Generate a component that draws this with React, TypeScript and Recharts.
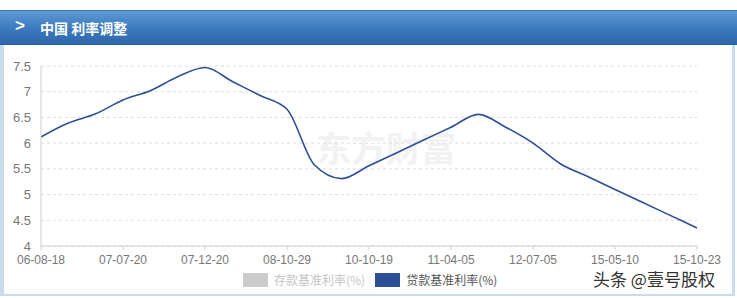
import React from 'react';
import { LineChart, Line, XAxis, YAxis, CartesianGrid, Legend } from 'recharts';

// rate adjustment dates (yy-mm-dd)
const dates = [
    '06-08-18', '07-03-17', '07-05-18', '07-07-20', '07-08-21', '07-09-14', '07-12-20',
    '08-09-15', '08-10-08', '08-10-29', '08-11-26', '08-12-22', '10-10-19', '10-12-25',
    '11-02-08', '11-04-05', '11-07-06', '12-06-07', '12-07-05', '14-11-21', '15-02-28',
    '15-05-10', '15-06-27', '15-08-25', '15-10-23'
];

// 存款基准利率 (hidden in the reference)
const depositRates = [
    2.52, 2.79, 3.06, 3.33, 3.6, 3.87, 4.14, 4.14, 3.87, 3.6, 2.52, 2.25, 2.5, 2.75,
    3.0, 3.25, 3.5, 3.25, 3.0, 2.75, 2.5, 2.25, 2.0, 1.75, 1.5
];

// 贷款基准利率
const loanRates = [
    6.12, 6.39, 6.57, 6.84, 7.02, 7.29, 7.47, 7.2, 6.93, 6.66, 5.58, 5.31, 5.56, 5.81,
    6.06, 6.31, 6.56, 6.31, 6.0, 5.6, 5.35, 5.1, 4.85, 4.6, 4.35
];

const yTicks = [4, 4.5, 5, 5.5, 6, 6.5, 7, 7.5];

const data = dates.map((d, i) => ({ date: d, deposit: depositRates[i], loan: loanRates[i] }));

const FONT = '"Liberation Sans", "Noto Sans CJK SC", sans-serif';

const renderLegend = (props: any) => {
    const { payload } = props;
    return (
        <div style={{ display: 'flex', alignItems: 'center', fontFamily: '"Noto Sans CJK SC", sans-serif', fontSize: 12 }}>
            {payload.map((entry: any) => (
                <div key={entry.value} style={{ display: 'flex', alignItems: 'center', marginRight: 10 }}>
                    <span style={{
                        display: 'inline-block', width: 25, height: 14, marginRight: 6,
                        background: entry.inactive ? '#cccccc' : entry.color
                    }} />
                    <span style={{ color: entry.inactive ? '#c4c4c4' : '#555' }}>{entry.value}</span>
                </div>
            ))}
        </div>
    );
};

export default function App() {
    return (
        <div style={{ position: 'relative', width: 737, height: 298, background: '#fff', overflow: 'hidden' }}>
            <style>{'body{margin:0}'}</style>

            {/* panel frame */}
            <div style={{
                position: 'absolute', left: 0, top: 44, width: 728, height: 250,
                borderLeft: '4px solid #c9dbec', borderRight: '3px solid #c9dbec', borderBottom: '2px solid #c9dbec'
            }} />

            {/* header bar */}
            <div style={{
                position: 'absolute', left: 0, top: 10, width: 737, height: 35, boxSizing: 'border-box',
                background: 'linear-gradient(to bottom, #5f9ad6, #3a78bd 55%, #2f68ab)',
                borderTop: '1px solid #3f74b0', borderBottom: '1px solid #2a5c98'
            }}>
                <span style={{
                    position: 'absolute', left: 15, top: 5, color: '#fff', fontSize: 17, fontWeight: 'bold',
                    fontFamily: FONT
                }}>{'>'}</span>
                <span style={{
                    position: 'absolute', left: 40, top: 7, color: '#fff', fontSize: 14, fontWeight: 'bold',
                    fontFamily: '"Noto Sans CJK SC", sans-serif'
                }}>中国 利率调整</span>
            </div>

            {/* 东方财富 watermark */}
            <div style={{
                position: 'absolute', left: 316, top: 121, fontSize: 35, fontWeight: 'bold', color: '#f2f2f2',
                fontFamily: '"Noto Sans CJK SC", sans-serif'
            }}>东方财富</div>

            <div style={{ position: 'absolute', left: 0, top: 0 }}>
                <LineChart width={737} height={298} data={data} margin={{ top: 66, right: 40, bottom: 22, left: 0 }}>
                    <CartesianGrid stroke="#dedede" strokeDasharray="3 3" vertical={false} />
                    <XAxis
                        dataKey="date"
                        interval={2}
                        height={30}
                        tick={{ fontSize: 12, fill: '#777', fontFamily: FONT }}
                        axisLine={{ stroke: '#cfcfcf' }}
                        tickLine={{ stroke: '#cfcfcf' }}
                        tickSize={4}
                        tickMargin={5}
                    />
                    <YAxis
                        domain={[4, 7.5]}
                        ticks={yTicks}
                        width={41}
                        tick={{ fontSize: 13, fill: '#777', fontFamily: FONT }}
                        axisLine={{ stroke: '#cfcfcf' }}
                        tickLine={false}
                        tickMargin={4}
                    />
                    <Legend
                        verticalAlign="middle"
                        layout="horizontal"
                        content={renderLegend}
                        wrapperStyle={{ top: 271, left: 243, width: 300 }}
                    />
                    <Line
                        type="monotone"
                        dataKey="deposit"
                        name="存款基准利率(%)"
                        stroke="#c8c8c8"
                        hide
                        dot={false}
                        isAnimationActive={false}
                    />
                    <Line
                        type="monotone"
                        dataKey="loan"
                        name="贷款基准利率(%)"
                        stroke="#2c4f96"
                        strokeWidth={1.6}
                        dot={false}
                        isAnimationActive={false}
                    />
                </LineChart>
            </div>

            {/* toutiao watermark */}
            <div style={{
                position: 'absolute', left: 593, top: 266, fontSize: 17, color: '#333',
                fontFamily: '"Noto Sans CJK SC", sans-serif'
            }}>头条 @壹号股权</div>
        </div>
    );
}
